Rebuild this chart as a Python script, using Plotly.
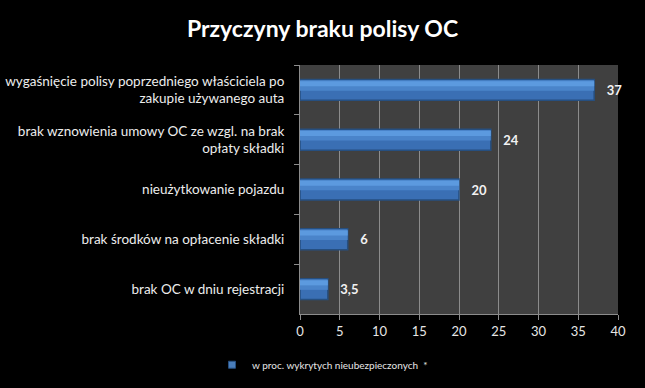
import plotly.graph_objects as go

categories = [
    "wygaśnięcie polisy poprzedniego właściciela po<br>zakupie używanego auta",
    "brak wznowienia umowy OC ze wzgl. na brak<br>opłaty składki",
    "nieużytkowanie pojazdu",
    "brak środków na opłacenie składki",
    "brak OC w dniu rejestracji",
]
values = [37, 24, 20, 6, 3.5]
value_labels = ["37", "24", "20", "6", "3,5"]
x_ticks = [0, 5, 10, 15, 20, 25, 30, 35, 40]
series_name = "w proc. wykrytych nieubezpieczonych  *"

fig = go.Figure()
# main bar (darker body)
fig.add_trace(go.Bar(
    y=categories,
    x=values,
    orientation="h",
    width=0.42,
    text=value_labels,
    texttemplate="   %{text}",
    textposition="outside",
    textfont=dict(family="Lato", size=13, color="#F2F2F2", weight="bold"),
    cliponaxis=False,
    marker=dict(color="#3A6FB4", line=dict(color="#264F80", width=1.5)),
    showlegend=False,
    hoverinfo="skip",
))
# bevel / gradient bands (upper part of bar)
fig.add_trace(go.Bar(
    y=categories,
    x=values,
    orientation="h",
    width=0.21,
    offset=-0.195,
    marker=dict(color="#4A84CA", line=dict(width=0)),
    showlegend=False,
    hoverinfo="skip",
))
fig.add_trace(go.Bar(
    y=categories,
    x=values,
    orientation="h",
    width=0.1,
    offset=-0.175,
    marker=dict(color="#5C9ADF", line=dict(width=0)),
    showlegend=False,
    hoverinfo="skip",
))
# legend entry with small square marker
fig.add_trace(go.Scatter(
    x=[None], y=[None],
    mode="markers",
    name=series_name,
    marker=dict(symbol="square", size=7, color="#4A7EBB", line=dict(color="#264F80", width=1)),
    showlegend=True,
))

fig.update_layout(
    width=645, height=388,
    paper_bgcolor="#000000",
    plot_bgcolor="#404040",
    margin=dict(l=300, r=27, t=65, b=74, autoexpand=False),
    barmode="overlay",
    title=dict(
        text="<b>Przyczyny braku polisy OC</b>",
        x=0.5, xanchor="center", y=0.925, yanchor="middle",
        font=dict(family="Lato", size=23, color="#FFFFFF"),
    ),
    font=dict(family="Lato", size=13, color="#EDEDED"),
    legend=dict(
        orientation="h", xref="container", x=0.5, xanchor="center",
        yref="container", y=0.06, yanchor="middle",
        font=dict(family="Lato", size=10, color="#E6E6E6"),
        bgcolor="rgba(0,0,0,0)", itemwidth=30,
    ),
    xaxis=dict(
        range=[0, 40], tickvals=x_ticks,
        showgrid=True, gridcolor="#8C8C8C", gridwidth=1,
        ticks="outside", ticklen=5, tickcolor="#8C8C8C",
        showline=True, linecolor="#8C8C8C", linewidth=1,
        tickfont=dict(family="Lato", size=13, color="#E6E6E6"),
        zeroline=False, automargin=False,
    ),
    yaxis=dict(
        autorange="reversed",
        tickson="boundaries",
        ticks="outside", ticklen=5, tickcolor="#8C8C8C",
        showline=True, linecolor="#8C8C8C", linewidth=1,
        showgrid=False,
        tickfont=dict(family="Lato", size=13.5, color="#EDEDED"),
        ticklabelstandoff=12,
        automargin=False,
    ),
)

fig.write_html(
    "out.html",
    config={"displayModeBar": False},
    post_script="document.body.style.margin='0';document.body.style.background='#000';",
)
